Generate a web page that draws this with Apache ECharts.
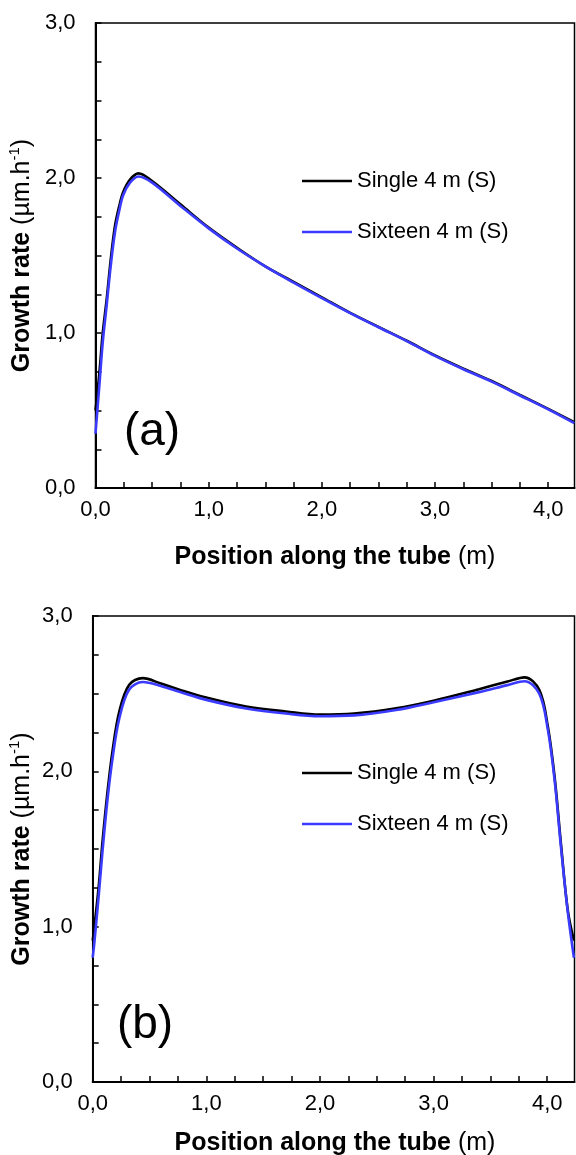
<!DOCTYPE html>
<html><head><meta charset="utf-8">
<script src="https://cdn.jsdelivr.net/npm/echarts@6/dist/echarts.min.js"></script>
<style>html,body{margin:0;padding:0;background:#fff}#c{width:576px;height:1155px}</style>
</head><body><div id="c"></div>
<script>
// Panel (a)
const xA_single = [0, 0.034, 0.064, 0.099, 0.134, 0.172, 0.21, 0.245, 0.305, 0.38, 0.5, 0.75, 1.0, 1.25, 1.5, 1.75, 2.0, 2.25, 2.5, 2.75, 3.0, 3.25, 3.5, 3.75, 4.0, 4.23];
const yA_single = [0.50, 0.74, 1.00, 1.22, 1.47, 1.69, 1.82, 1.91, 1.99, 2.03, 1.98, 1.83, 1.68, 1.55, 1.43, 1.33, 1.23, 1.13, 1.04, 0.95, 0.855, 0.77, 0.69, 0.60, 0.51, 0.425];
const xA_sixteen = [0, 0.034, 0.064, 0.099, 0.134, 0.172, 0.21, 0.245, 0.305, 0.38, 0.5, 0.75, 1.0, 1.25, 1.5, 1.75, 2.0, 2.25, 2.5, 2.75, 3.0, 3.25, 3.5, 3.75, 4.0, 4.23];
const yA_sixteen = [0.35, 0.66, 0.94, 1.18, 1.43, 1.65, 1.79, 1.89, 1.97, 2.01, 1.97, 1.82, 1.675, 1.545, 1.43, 1.325, 1.225, 1.128, 1.037, 0.948, 0.852, 0.766, 0.686, 0.597, 0.507, 0.418];
// Panel (b)
const xB_single = [0, 0.015, 0.053, 0.088, 0.132, 0.176, 0.234, 0.32, 0.44, 0.6, 0.77, 1.0, 1.35, 1.7, 2.0, 2.3, 2.67, 3.0, 3.4, 3.65, 3.8, 3.93, 4.005, 4.064, 4.12, 4.18, 4.235];
const yB_single = [0.91, 1.00, 1.26, 1.56, 1.88, 2.14, 2.385, 2.556, 2.60, 2.565, 2.524, 2.475, 2.417, 2.385, 2.365, 2.372, 2.406, 2.455, 2.529, 2.578, 2.605, 2.525, 2.29, 1.97, 1.54, 1.11, 0.91];
const xB_sixteen = [0, 0.015, 0.053, 0.088, 0.132, 0.176, 0.234, 0.32, 0.44, 0.6, 0.77, 1.0, 1.35, 1.7, 2.0, 2.3, 2.67, 3.0, 3.4, 3.65, 3.8, 3.93, 4.005, 4.064, 4.12, 4.18, 4.235];
const yB_sixteen = [0.80, 0.90, 1.20, 1.50, 1.83, 2.09, 2.34, 2.525, 2.575, 2.55, 2.51, 2.46, 2.405, 2.372, 2.355, 2.36, 2.395, 2.445, 2.51, 2.555, 2.58, 2.50, 2.27, 1.95, 1.52, 1.10, 0.80];

const seriesNames = ['Single 4 m (S)', 'Sixteen 4 m (S)'];
const panelLabels = ['(a)', '(b)'];
const xTitleBold = 'Position along the tube';
const xTitleUnit = ' (m)';
const yTitleBold = 'Growth rate';
const yTitleUnit = ' (µm.h';
const yTitleSup = '-1';
const xMax = [4.232, 4.24];

const FONT = "'Liberation Sans', Arial, sans-serif";
const fmt = v => (Math.abs(v - Math.round(v)) < 1e-6) ? v.toFixed(1).replace('.', ',') : '';
const pairs = (xs, ys) => xs.map((x, i) => [x, ys[i]]);

const grids = [
  {left: 95.5, top: 23, right: 1.5, height: 465},
  {left: 92.7, top: 616, right: 1.5, height: 466}
];

function xAxis(i) {
  return {
    type: 'value', gridIndex: i, min: 0, max: xMax[i], interval: 0.25,
    axisLine: {show: true, lineStyle: {color: '#000', width: 2}},
    axisTick: {show: true, inside: true, length: 6, lineStyle: {color: '#000', width: 1.5}},
    axisLabel: {formatter: fmt, color: '#000', fontSize: 22, fontFamily: FONT, margin: 11, showMaxLabel: false},
    splitLine: {show: false}
  };
}
function yAxis(i) {
  return {
    type: 'value', gridIndex: i, min: 0, max: 3, interval: 0.25,
    axisLine: {show: true, lineStyle: {color: '#000', width: 2}},
    axisTick: {show: true, inside: true, length: 6, lineStyle: {color: '#000', width: 1.5}},
    axisLabel: {formatter: fmt, color: '#000', fontSize: 22, fontFamily: FONT, margin: 20},
    splitLine: {show: false}
  };
}
const BLUE = '#3b3bff';
function line(name, i, data, color) {
  return {
    name, type: 'line', xAxisIndex: i, yAxisIndex: i, data, smooth: 0.35,
    symbol: 'none', lineStyle: {color, width: 2.6}, itemStyle: {color}, z: color === BLUE ? 3 : 2
  };
}

function yTitle(x, y) {
  return {
    type: 'text', x, y, rotation: Math.PI / 2,
    style: {
      text: '{b|' + yTitleBold + '}{n|' + yTitleUnit + '}{s|' + yTitleSup + '}{n|)}',
      align: 'center', verticalAlign: 'middle', fill: '#000',
      rich: {
        b: {fontWeight: 'bold', fontSize: 25, fontFamily: FONT, fill: '#000', lineHeight: 30},
        n: {fontSize: 25, fontFamily: FONT, fill: '#000', lineHeight: 30},
        s: {fontSize: 15, fontFamily: FONT, fill: '#000', verticalAlign: 'top', lineHeight: 30}
      }
    }
  };
}
function xTitle(x, y) {
  return {
    type: 'text', x, y,
    style: {
      text: '{b|' + xTitleBold + '}{n|' + xTitleUnit + '}',
      align: 'center', verticalAlign: 'middle', fill: '#000',
      rich: {
        b: {fontWeight: 'bold', fontSize: 25, fontFamily: FONT, fill: '#000'},
        n: {fontSize: 25, fontFamily: FONT, fill: '#000'}
      }
    }
  };
}
function panelText(txt, x, y) {
  return {type: 'text', x, y, style: {text: txt, fontSize: 46, fontFamily: FONT, fill: '#000', align: 'center', verticalAlign: 'middle'}};
}
function legend(top) {
  return {
    orient: 'vertical', left: 302, top, itemWidth: 50, itemHeight: 2.5, itemGap: 27,
    icon: 'rect', padding: 0,
    textStyle: {fontSize: 22, fontFamily: FONT, color: '#000', lineHeight: 24},
    data: seriesNames, selectedMode: false
  };
}

const chart = echarts.init(document.getElementById('c'), null, {renderer: 'canvas'});
chart.setOption({
  animation: false,
  backgroundColor: '#fff',
  grid: grids.map(g => Object.assign({show: true, borderColor: '#000', borderWidth: 1.5, backgroundColor: 'transparent'}, g)),
  xAxis: [xAxis(0), xAxis(1)],
  yAxis: [yAxis(0), yAxis(1)],
  legend: [legend(169), legend(761)],
  series: [
    line(seriesNames[0], 0, pairs(xA_single, yA_single), '#000000'),
    line(seriesNames[1], 0, pairs(xA_sixteen, yA_sixteen), BLUE),
    line(seriesNames[0], 1, pairs(xB_single, yB_single), '#000000'),
    line(seriesNames[1], 1, pairs(xB_sixteen, yB_sixteen), BLUE)
  ],
  graphic: [
    yTitle(22, 255.5), xTitle(335, 557), panelText(panelLabels[0], 152, 432),
    yTitle(22, 849), xTitle(335, 1143), panelText(panelLabels[1], 145, 1025)
  ]
});
</script></body></html>
